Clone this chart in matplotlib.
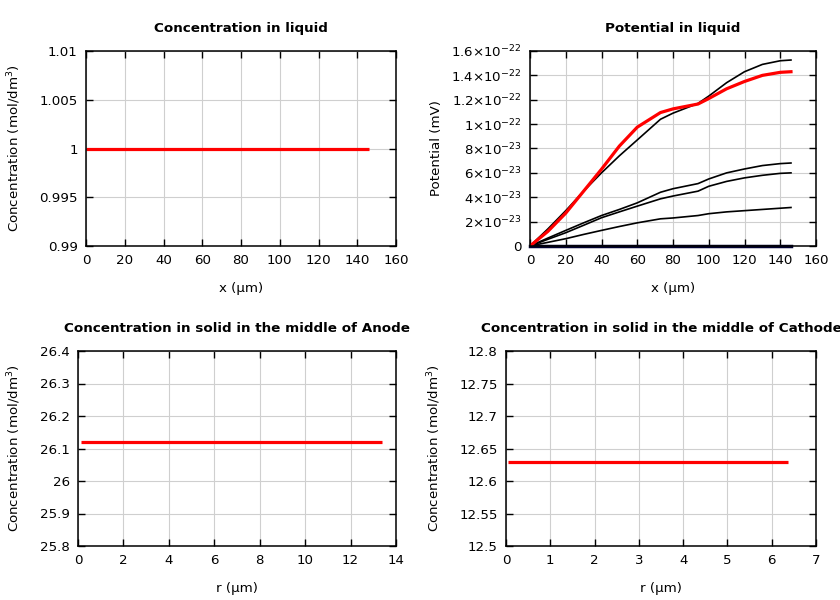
import matplotlib
matplotlib.use("Agg")
import matplotlib.pyplot as plt
from matplotlib.ticker import FuncFormatter, MultipleLocator
import numpy as np

# ---- data ----
x_liquid = [0, 146]
c_liquid = [1.0, 1.0]

x_pot = [0, 10, 20, 30, 40, 50, 60, 73, 80, 94, 100, 110, 120, 130, 140, 146]
pot_black1 = [0, 0.14, 0.29, 0.45, 0.60, 0.74, 0.87, 1.04, 1.09, 1.17, 1.23, 1.34, 1.43, 1.49, 1.52, 1.526]
pot_red = [0, 0.12, 0.27, 0.45, 0.63, 0.82, 0.975, 1.095, 1.125, 1.165, 1.21, 1.29, 1.35, 1.40, 1.425, 1.43]
pot_black2 = [0, 0.065, 0.128, 0.19, 0.25, 0.30, 0.354, 0.441, 0.47, 0.512, 0.55, 0.60, 0.632, 0.66, 0.676, 0.681]
pot_black3 = [0, 0.055, 0.109, 0.17, 0.232, 0.28, 0.327, 0.387, 0.41, 0.45, 0.49, 0.53, 0.559, 0.58, 0.596, 0.60]
pot_black4 = [0, 0.03, 0.06, 0.095, 0.128, 0.16, 0.19, 0.223, 0.23, 0.25, 0.265, 0.28, 0.29, 0.30, 0.31, 0.316]
pot_zero = [0] * len(x_pot)
pot_scale = 1e-22

r_anode = [0.15, 13.4]
c_anode = [26.12, 26.12]
r_cathode = [0.05, 6.37]
c_cathode = [12.63, 12.63]

titles = ["Concentration in liquid", "Potential in liquid",
          "Concentration in solid in the middle of Anode",
          "Concentration in solid in the middle of Cathode"]

W, H = 840, 600
fig = plt.figure(figsize=(8.4, 6.0), dpi=100)
FS = 9.6

def add_ax(l, r, t, b):
    return fig.add_axes([l / W, 1 - b / H, (r - l) / W, (b - t) / H])

def style(ax):
    ax.tick_params(direction="in", top=True, right=True, length=5, width=1,
                   labelsize=FS, pad=6, colors="black")
    ax.grid(True, color="#cfcfcf", linewidth=0.8)
    ax.set_axisbelow(True)
    for s in ax.spines.values():
        s.set_linewidth(1.1)
        s.set_color("black")

def plain(v, pos):
    return f"{v:.6g}"

ax1 = add_ax(86, 396, 51, 246)
ax2 = add_ax(530, 816, 51, 246)
ax3 = add_ax(78, 396, 351, 546)
ax4 = add_ax(506, 816, 351, 546)

for ax in (ax1, ax2, ax3, ax4):
    style(ax)

red = "#ff0000"
RLW = 2.3
XL_Y = (246 - 282) / 195

# Panel 1
ax1.plot(x_liquid, c_liquid, color=red, lw=RLW, solid_capstyle="butt")
ax1.set_xlim(0, 160)
ax1.set_ylim(0.99, 1.01)
ax1.xaxis.set_major_locator(MultipleLocator(20))
ax1.yaxis.set_major_locator(MultipleLocator(0.005))
ax1.yaxis.set_major_formatter(FuncFormatter(plain))
ax1.set_xlabel("x (µm)", fontsize=FS)
ax1.set_ylabel("Concentration (mol/dm$^3$)", fontsize=FS)
ax1.xaxis.set_label_coords(0.5, XL_Y)
ax1.yaxis.set_label_coords((23 - 86) / 310, 0.5)

# Panel 2
xp = np.array(x_pot)
for ys in (pot_black1, pot_black2, pot_black3, pot_black4):
    ax2.plot(xp, np.array(ys) * pot_scale, color="black", lw=1.2)
ax2.plot(xp, np.array(pot_zero) * pot_scale, color="#000030", lw=2.5, clip_on=False)
ax2.plot(xp, np.array(pot_red) * pot_scale, color=red, lw=RLW)
ax2.set_xlim(0, 160)
ax2.set_ylim(0, 1.6e-22)
ax2.xaxis.set_major_locator(MultipleLocator(20))
ax2.yaxis.set_major_locator(MultipleLocator(2e-23))

def sci(v, pos):
    if abs(v) < 1e-30:
        return "0"
    e = int(np.floor(np.log10(abs(v)) + 1e-9))
    m = v / 10 ** e
    ms = f"{m:.2g}"
    return r"$\mathregular{" + ms + r"{\times}10^{" + str(e) + r"}}$"

ax2.yaxis.set_major_formatter(FuncFormatter(sci))
ax2.set_xlabel("x (µm)", fontsize=FS)
ax2.set_ylabel("Potential (mV)", fontsize=FS)
ax2.xaxis.set_label_coords(0.5, XL_Y)
ax2.yaxis.set_label_coords((443 - 530) / 286, 0.5)

# Panel 3
ax3.plot(r_anode, c_anode, color=red, lw=RLW, solid_capstyle="butt")
ax3.set_xlim(0, 14)
ax3.set_ylim(25.8, 26.4)
ax3.xaxis.set_major_locator(MultipleLocator(2))
ax3.yaxis.set_major_locator(MultipleLocator(0.1))
ax3.yaxis.set_major_formatter(FuncFormatter(plain))
ax3.set_xlabel("r (µm)", fontsize=FS)
ax3.set_ylabel("Concentration (mol/dm$^3$)", fontsize=FS)
ax3.xaxis.set_label_coords(0.5, XL_Y)
ax3.yaxis.set_label_coords((23 - 78) / 318, 0.5)

# Panel 4
ax4.plot(r_cathode, c_cathode, color=red, lw=RLW, solid_capstyle="butt")
ax4.set_xlim(0, 7)
ax4.set_ylim(12.5, 12.8)
ax4.xaxis.set_major_locator(MultipleLocator(1))
ax4.yaxis.set_major_locator(MultipleLocator(0.05))
ax4.yaxis.set_major_formatter(FuncFormatter(plain))
ax4.set_xlabel("r (µm)", fontsize=FS)
ax4.set_ylabel("Concentration (mol/dm$^3$)", fontsize=FS)
ax4.xaxis.set_label_coords(0.5, XL_Y)
ax4.yaxis.set_label_coords((443 - 506) / 310, 0.5)

for ax, t in zip((ax1, ax2, ax3, ax4), titles):
    ax.set_title(t, fontsize=9.7, fontweight="bold", pad=14)

fig.savefig("out.png", dpi=100)
